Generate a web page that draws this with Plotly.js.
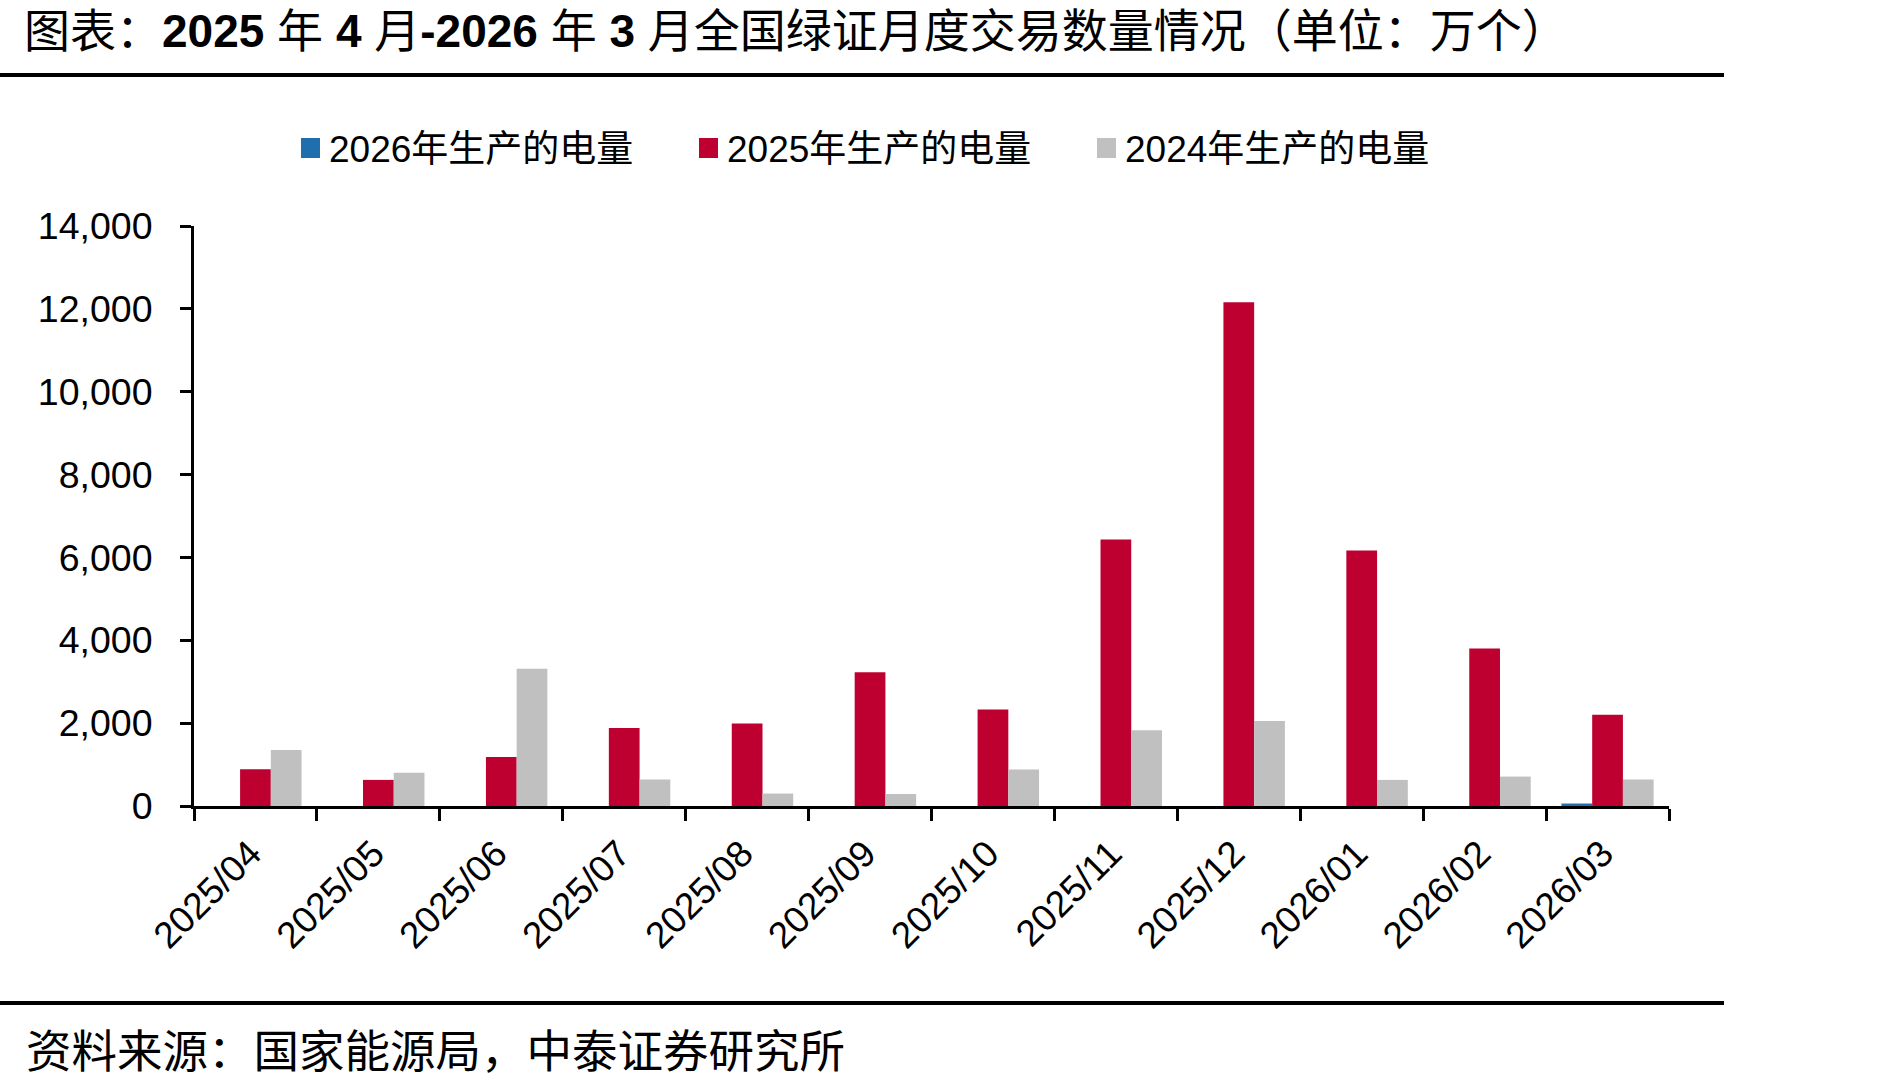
<!DOCTYPE html>
<html>
<head>
<meta charset="utf-8">
<script src="https://cdn.plot.ly/plotly-3.0.1.min.js"></script>
<style>html,body{margin:0;padding:0;background:#fff;}#chart{width:1897px;height:1088px;}</style>
</head>
<body>
<div id="chart"></div>
<script>
// ---- data ----
const categories = ['2025/04','2025/05','2025/06','2025/07','2025/08','2025/09','2025/10','2025/11','2025/12','2026/01','2026/02','2026/03'];
const seriesNames = ['2026年生产的电量','2025年生产的电量','2024年生产的电量'];
const values2026 = [null,null,null,null,null,null,null,null,null,null,null,60];
const values2025 = [890,630,1180,1880,1990,3230,2330,6430,12160,6170,3800,2200];
const values2024 = [1350,800,3310,640,300,290,880,1830,2050,630,710,640];
const yTickVals = [0,2000,4000,6000,8000,10000,12000,14000];
const titleText = '图表：<b>2025</b> 年 <b>4</b> 月<b>-2026</b> 年 <b>3</b> 月全国绿证月度交易数量情况（单位：万个）';
const sourceText = '资料来源：国家能源局，中泰证券研究所';

// ---- styles / layout constants ----
const colors = ['#1F6EAE','#BE0030','#C0C0C0'];
const FONT = 'Arial, "Liberation Sans", "Noto Sans CJK SC", sans-serif';
const W = 1897, H = 1088;
const L = 194, R = 1669, T = 226, B = 806;
const pw = R - L, ph = B - T;
const px = x => (x - L) / pw;
const py = y => (B - y) / ph;

const traces = [values2026, values2025, values2024].map((v, i) => ({
  type: 'bar', x: categories, y: v, name: seriesNames[i],
  marker: {color: colors[i], line: {width: 0}}, showlegend: false, hoverinfo: 'skip'
}));

// custom legend
const legendStarts = [301, 699, 1097];
const shapes = [];
const annotations = [];
legendStarts.forEach((sx, i) => {
  shapes.push({type: 'rect', xref: 'paper', yref: 'paper',
    x0: px(sx), x1: px(sx + 19), y0: py(158), y1: py(138),
    fillcolor: colors[i], line: {width: 0}});
  annotations.push({xref: 'paper', yref: 'paper', x: px(sx + 26), y: py(150),
    xanchor: 'left', yanchor: 'middle', showarrow: false, text: seriesNames[i],
    font: {family: FONT, size: 37, color: '#000'}});
});
// separator lines
shapes.push({type: 'line', xref: 'paper', yref: 'paper', x0: px(0), x1: px(1724), y0: py(75), y1: py(75), line: {color: '#000', width: 4}});
shapes.push({type: 'line', xref: 'paper', yref: 'paper', x0: px(0), x1: px(1724), y0: py(1003), y1: py(1003), line: {color: '#000', width: 4}});
// source
annotations.push({xref: 'paper', yref: 'paper', x: px(24), y: py(1052), xanchor: 'left', yanchor: 'middle',
  showarrow: false, text: sourceText, font: {family: FONT, size: 45.5, color: '#000'}});

const layout = {
  width: W, height: H,
  margin: {l: L, r: W - R, t: T, b: H - B, pad: 0},
  paper_bgcolor: '#fff', plot_bgcolor: '#fff',
  title: {text: titleText, xref: 'container', yref: 'container', x: 24 / W, xanchor: 'left',
    y: 1 - 31 / H, yanchor: 'middle', font: {family: FONT, size: 46, color: '#000'}},
  barmode: 'group', bargap: 0.25, bargroupgap: 0,
  showlegend: false,
  font: {family: FONT, color: '#000'},
  xaxis: {type: 'category', showline: true, linecolor: '#000', linewidth: 3,
    ticks: 'outside', tickson: 'boundaries', ticklen: 12, tickwidth: 3, tickcolor: '#000',
    tickangle: -45, ticklabelstandoff: 8, ticklabelshift: -5,
    tickfont: {family: FONT, size: 37, color: '#000'},
    showgrid: false, zeroline: false, fixedrange: true},
  yaxis: {range: [0, 14000], tickvals: yTickVals, tickformat: ',', showline: true, linecolor: '#000', linewidth: 3,
    ticks: 'outside', ticklen: 11, tickwidth: 3, tickcolor: '#000', ticklabelstandoff: 20,
    tickfont: {family: FONT, size: 37.5, color: '#000'}, showgrid: false, zeroline: false, fixedrange: true},
  shapes: shapes, annotations: annotations
};

Plotly.newPlot('chart', traces, layout, {displayModeBar: false, staticPlot: true});
</script>
</body>
</html>
